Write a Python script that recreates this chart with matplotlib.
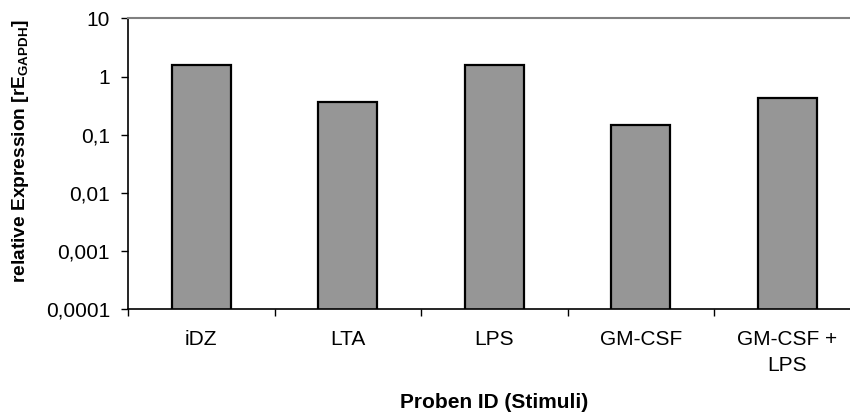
import matplotlib
matplotlib.use("Agg")
import matplotlib.pyplot as plt
import numpy as np

plt.rcParams['font.family'] = ['Liberation Sans', 'DejaVu Sans']
plt.rcParams['mathtext.fontset'] = 'custom'
plt.rcParams['mathtext.bf'] = 'Liberation Sans:bold'
plt.rcParams['mathtext.rm'] = 'Liberation Sans'

categories = ["iDZ", "LTA", "LPS", "GM-CSF", "GM-CSF +\nLPS"]
values = [1.57, 0.367, 1.59, 0.148, 0.43]
ytick_values = [0.0001, 0.001, 0.01, 0.1, 1, 10]
ytick_labels = ["0,0001", "0,001", "0,01", "0,1", "1", "10"]

fig = plt.figure(figsize=(8.5, 4.18), dpi=100)
ax = fig.add_axes([128 / 850, (418 - 309.3) / 418, 732.5 / 850, 290.8 / 418])

x = np.arange(len(categories))
ax.bar(x, values, width=0.4, color="#969696", edgecolor="black", linewidth=1.6)
ax.set_yscale("log")
ax.set_ylim(0.0001, 10)
ax.set_xlim(-0.5, len(categories) - 0.5)

ax.set_yticks(ytick_values)
ax.set_yticklabels(ytick_labels, fontsize=15)
ax.yaxis.set_minor_locator(matplotlib.ticker.NullLocator())
ax.tick_params(axis="y", direction="out", length=5, width=1, pad=8)

# category labels sit between the boundary ticks
ax.set_xticks(x)
ax.set_xticklabels(categories, fontsize=15, linespacing=1.45)
ax.tick_params(axis="x", which="major", length=0, pad=15)
ax.set_xticks(np.arange(len(categories) + 1) - 0.5, minor=True)
ax.tick_params(axis="x", which="minor", direction="out", length=5, width=1)

for side in ["left", "bottom"]:
    ax.spines[side].set_color("black")
    ax.spines[side].set_linewidth(1.2)
for side in ["top", "right"]:
    ax.spines[side].set_color("#808080")
    ax.spines[side].set_linewidth(1.5)

ax.set_xlabel("Proben ID (Stimuli)", fontsize=15, fontweight="bold", labelpad=13)
fig.text(21 / 850, 1 - 151 / 418, r"relative Expression [rE$\mathbf{_{GAPDH}}$]",
         rotation=90, fontsize=13.8, fontweight="bold", ha="center", va="center")

fig.savefig("out.png", dpi=100)
